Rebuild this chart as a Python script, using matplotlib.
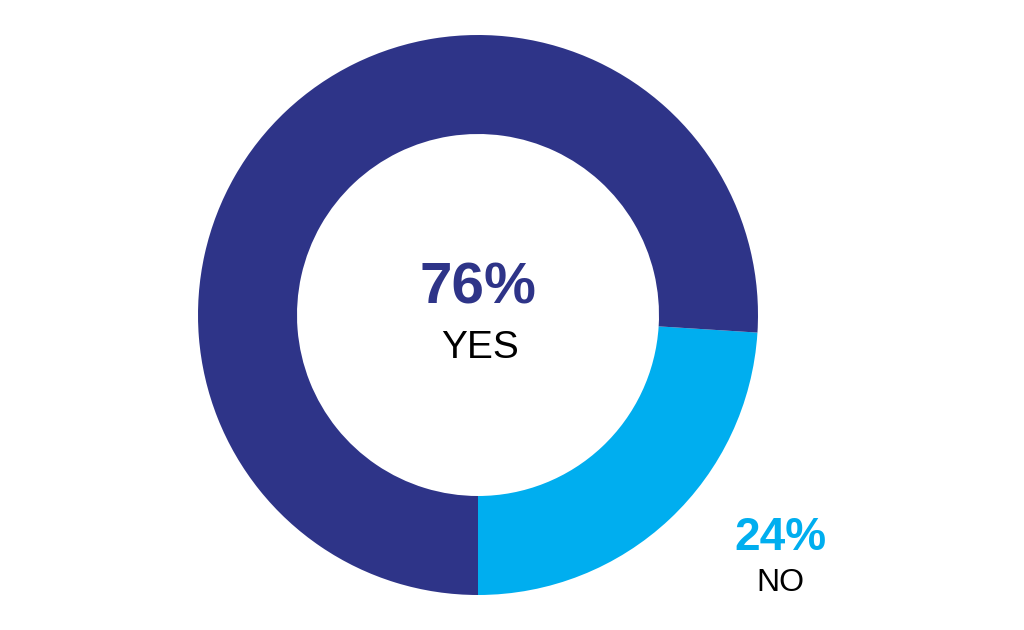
import matplotlib.pyplot as plt

labels = ['NO', 'YES']
values = [24, 76]
colors = ['#00AEEF', '#2E3488']

plt.rcParams['font.family'] = ['Liberation Sans', 'DejaVu Sans']

fig = plt.figure(figsize=(10.24, 6.3), dpi=100)
ax = fig.add_axes([0, 0, 1, 1])
ax.set_xlim(0, 1024)
ax.set_ylim(0, 630)
ax.set_aspect('equal')
ax.axis('off')

# donut, starting at the bottom and going counterclockwise
ax.pie(values, colors=colors, startangle=-90, counterclock=True,
       center=(478, 315), radius=280,
       wedgeprops=dict(width=99, linewidth=0))
ax.set_xlim(0, 1024)
ax.set_ylim(0, 630)

# centre label (YES)
ax.text(478, 630 - 288, f'{values[1]}%', ha='center', va='center',
        fontsize=42, fontweight='bold', color=colors[1])
ax.text(480, 630 - 348, labels[1], ha='center', va='center',
        fontsize=28, color='black')

# outside label (NO)
ax.text(780, 630 - 538, f'{values[0]}%', ha='center', va='center',
        fontsize=33, fontweight='bold', color=colors[0])
ax.text(780, 630 - 583, labels[0], ha='center', va='center',
        fontsize=23, color='black')

fig.savefig('out.png', dpi=100, facecolor='white')
